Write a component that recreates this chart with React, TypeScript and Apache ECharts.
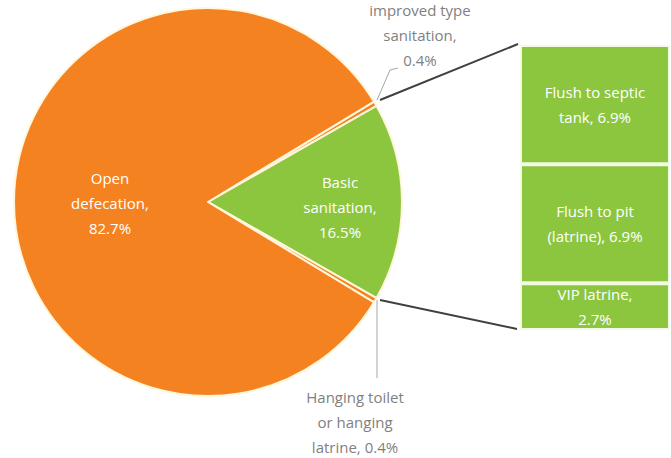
import React, { useEffect, useRef } from "react";
import * as echarts from "echarts";

const pieNames = [
  "improved type\nsanitation,\n0.4%",
  "Basic\nsanitation,\n16.5%",
  "Hanging toilet\nor hanging\nlatrine, 0.4%",
  "Open\ndefecation,\n82.7%",
];
const pieValues = [0.4, 16.5, 0.4, 82.7];
const pieColors = ["#F58220", "#8CC63F", "#F58220", "#F58220"];

const barNames = ["Flush to septic\ntank, 6.9%", "Flush to pit\n(latrine), 6.9%", "VIP latrine,\n2.7%"];
const barValues = [6.9, 6.9, 2.7];

export default function App() {
  const ref = useRef<HTMLDivElement>(null);
  useEffect(() => {
    if (!ref.current) return;
    const chart = echarts.init(ref.current, null, { renderer: "svg" });
    const font = "'Open Sans', 'Noto Sans', sans-serif";
    const labelPos: Record<number, any> = {
      0: { x: 420, y: 35, labelLinePoints: [[377, 100], [390, 70], [398, 68]] },
      1: { x: 340, y: 207 },
      2: { x: 355, y: 422, labelLinePoints: [[377, 300], [377, 340], [377, 378]] },
      3: { x: 110, y: 203 },
    };
    const total = barValues.reduce((a, b) => a + b, 0);
    chart.setOption({
      animation: false,
      grid: { left: 520, width: 150, top: 45, height: 285 },
      xAxis: { type: "category", data: ["other"], show: false },
      yAxis: { type: "value", min: 0, max: total, inverse: true, show: false },
      graphic: [
        { type: "line", shape: { x1: 380, y1: 100, x2: 518, y2: 44 }, style: { stroke: "#404040", lineWidth: 2 } },
        { type: "line", shape: { x1: 380, y1: 300, x2: 517, y2: 329 }, style: { stroke: "#404040", lineWidth: 2 } },
      ],
      series: [
        {
          type: "pie",
          center: [208, 202],
          radius: 194,
          startAngle: 31.14,
          clockwise: true,
          silent: true,
          emphasis: { disabled: true },
          itemStyle: { borderColor: "#FFF6DC", borderWidth: 2 },
          labelLayout: (p: any) => ({
            ...labelPos[p.dataIndex],
            align: "center",
            verticalAlign: "middle",
          }),
          data: pieNames.map((n, i) => {
            const small = pieValues[i] < 1;
            return {
              name: n,
              value: pieValues[i],
              itemStyle: { color: pieColors[i] },
              label: small
                ? {
                    show: true,
                    position: "outside",
                    formatter: "{b}",
                    color: "#7F7F7F",
                    fontSize: 15,
                    lineHeight: 25,
                    fontFamily: font,
                  }
                : {
                    show: true,
                    position: "inside",
                    formatter: "{b}",
                    color: "#FFFFFF",
                    fontSize: 15,
                    lineHeight: 25,
                    fontFamily: font,
                  },
              labelLine: small
                ? { show: true, length: 10, length2: 10, lineStyle: { color: "#A6A6A6", width: 1 } }
                : { show: false },
            };
          }),
        },
        ...barNames.map((n, i) => ({
          type: "bar",
          name: n,
          stack: "other",
          barWidth: "100%",
          silent: true,
          itemStyle: { color: "#8CC63F", borderColor: "#F2FAE4", borderWidth: 2 },
          label: {
            show: true,
            position: "inside",
            formatter: n,
            color: "#FFFFFF",
            fontSize: 15,
            lineHeight: 25,
            fontFamily: font,
          },
          data: [barValues[i]],
        })),
      ],
    });
    return () => chart.dispose();
  }, []);
  return <div ref={ref} style={{ position: "fixed", left: 0, top: 0, width: 671, height: 458, background: "#fff" }} />;
}
